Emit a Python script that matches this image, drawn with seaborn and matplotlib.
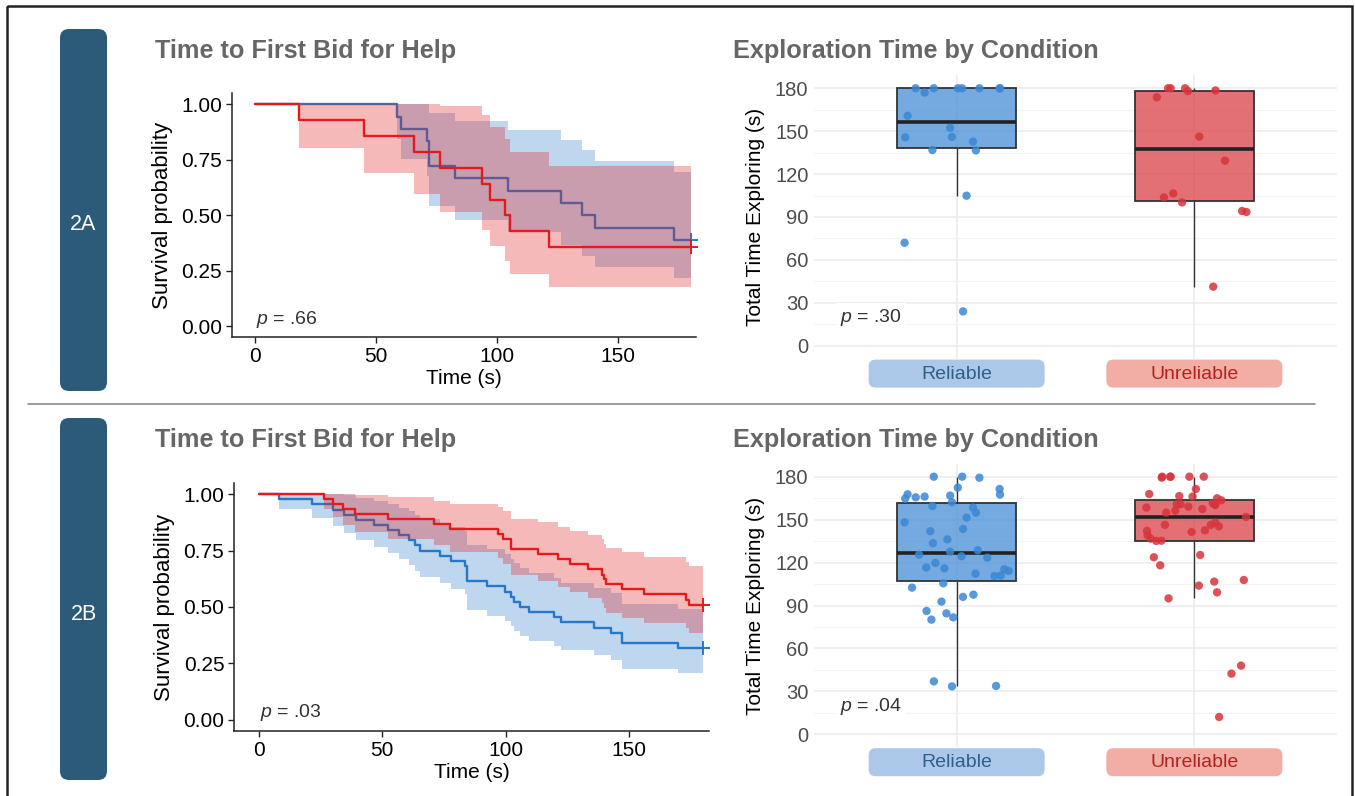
import numpy as np
import pandas as pd
import matplotlib
matplotlib.use("Agg")
import matplotlib.pyplot as plt
import seaborn as sns
from matplotlib.colors import to_rgba
from matplotlib.patches import FancyBboxPatch, Rectangle
from matplotlib.ticker import MultipleLocator, FormatStrFormatter

# Kaplan-Meier steps: time, survival, 95% band
a_rel_time = [0, 58.8, 60.3, 71.1, 71.9, 82.8, 104.4, 126.3, 134.9, 140.4, 173.1, 180]
a_rel_surv = [1, .944, .889, .833, .722, .667, .611, .556, .500, .444, .389, .389]
a_rel_low = [1, .844, .755, .678, .542, .481, .423, .368, .315, .265, .218, .218]
a_rel_up = [1, 1, 1, 1, .962, .924, .883, .840, .794, .745, .694, .694]

a_unr_time = [0, 18.3, 44.9, 65.9, 76.4, 93.6, 96.9, 103.4, 105.3, 121.5, 180]
a_unr_surv = [1, .929, .857, .786, .714, .643, .571, .500, .429, .357, .357]
a_unr_low = [1, .803, .692, .598, .513, .435, .363, .296, .234, .177, .177]
a_unr_up = [1, 1, 1, 1, .995, .950, .899, .844, .785, .721, .721]

b_rel_time = [0, 8.1, 21.4, 30.3, 34.5, 39.5, 46.7, 52.5, 57, 61, 63.5, 65.5, 73.5, 78,
              83.5, 84.5, 92.4, 99.7, 102, 103.4, 105.7, 109.4, 119.7, 122.6, 136,
              142.6, 147, 170, 180]
b_rel_surv = [1, .977, .955, .932, .909, .886, .864, .841, .818, .795, .773, .750, .727,
              .705, .682, .614, .591, .568, .545, .523, .500, .477, .455, .432, .409,
              .386, .341, .318, .318]
b_rel_low = [1, .934, .895, .860, .828, .797, .768, .740, .712, .685, .658, .632, .607,
             .582, .557, .485, .462, .439, .416, .394, .372, .350, .329, .308, .287,
             .266, .226, .206, .206]
b_rel_up = [1, 1, 1, 1, .998, .985, .971, .956, .940, .924, .907, .890, .872, .853,
            .835, .776, .756, .735, .714, .693, .672, .650, .628, .606, .583, .561,
            .514, .490, .490]

b_unr_time = [0, 26.6, 30.3, 34, 39.2, 52.5, 71, 77.3, 97.1, 99, 102.4, 113, 121.2,
              126.3, 133.4, 138.9, 140, 140.5, 147, 155.9, 173.2, 174.4, 180]
b_unr_surv = [1, .978, .956, .933, .911, .889, .867, .844, .822, .800, .756, .733, .711,
              .689, .667, .644, .622, .600, .578, .556, .533, .511, .511]
b_unr_low = [1, .936, .897, .863, .832, .802, .773, .745, .718, .691, .640, .615, .590,
             .566, .542, .519, .496, .473, .450, .428, .406, .384, .384]
b_unr_up = [1, 1, 1, 1, .998, .986, .972, .957, .942, .926, .892, .875, .857, .838,
            .820, .800, .781, .762, .742, .722, .701, .680, .680]

# total exploration time per participant (s)
a_rel_explore = [180, 180, 180, 180, 180, 180, 180, 177, 160.8, 152.4, 145.7, 146,
                 142.7, 136.8, 136.6, 104.9, 72, 24]
a_unr_explore = [180, 180, 180, 178.5, 178, 173.7, 146.2, 129.4, 106.5, 103.7, 100.2,
                 94.2, 93.5, 41.3]
b_rel_explore = [180, 179.3, 180, 172.4, 171.4, 167.5, 165.6, 166.1, 167.7, 166.8, 164.7,
                 162.1, 158.4, 159.5, 154.9, 151.4, 148.1, 143.5, 141.9, 136.2, 133.5,
                 128.6, 127.6, 125.5, 124.4, 123.4, 119.7, 116.5, 116, 115.3, 114.1,
                 112.3, 110.9, 110.6, 105.5, 102.5, 97.6, 96, 92.7, 86.2, 84.5, 81.7,
                 80.1, 37, 33.5, 33.8]
b_unr_explore = [180, 180, 180, 180, 180, 179.3, 171.4, 167.9, 166.1, 166.5, 164.9, 163.5,
                 160.2, 160.5, 160.7, 161.4, 160.7, 157.4, 156.3, 159.1, 158.4, 154.9,
                 151.9, 146.3, 147.9, 146.3, 145.3, 141.4, 142.5, 142.1, 139, 135.3,
                 135.1, 136.7, 123.7, 125.3, 118.1, 107.8, 106.7, 103.9, 99.2, 95, 48,
                 42.4, 12.1]

conditions = ["Reliable", "Unreliable"]
panel_tags = ["2A", "2B"]
p_surv = [".66", ".03"]
p_box = [".30", ".04"]

W, H = 1355, 796
line_blue, line_red = "#2878C8", "#E41A1C"
box_blue, box_red = "#3A87D4", "#D7343B"
tab_color = "#2C5B7A"

sns.set_theme(style="white")
plt.rcParams["font.family"] = ["Liberation Sans", "DejaVu Sans"]
plt.rcParams["mathtext.fontset"] = "custom"
plt.rcParams["mathtext.it"] = "Liberation Sans:italic"
plt.rcParams["mathtext.rm"] = "Liberation Sans"

fig = plt.figure(figsize=(W / 100, H / 100), dpi=100)

# pixel-space overlay for tabs, titles, frame
bg = fig.add_axes([0, 0, 1, 1], zorder=0)
bg.set_xlim(0, W)
bg.set_ylim(H, 0)
bg.axis("off")


def px_axes(l, t, r, b):
    return fig.add_axes([l / W, 1 - b / H, (r - l) / W, (b - t) / H], zorder=1)


def surv_panel(ax, curves, pval, xlim):
    z = 1
    for time, surv, low, up, col in curves:
        ax.fill_between(time, low, up, step="post", color=col, alpha=0.3, lw=0, zorder=z)
        sns.lineplot(x=time, y=surv, drawstyle="steps-post", color=col, lw=1.7,
                     estimator=None, sort=False, zorder=z + 1, ax=ax)
        ax.plot(time[-1], surv[-1], marker="+", ms=10, mew=1.4, color=col,
                clip_on=False, zorder=z + 1)
        z += 2
    ax.set_xlim(*xlim)
    ax.set_ylim(-0.05, 1.05)
    ax.set_xticks([0, 50, 100, 150])
    ax.set_yticks([0, .25, .5, .75, 1])
    ax.yaxis.set_major_formatter(FormatStrFormatter("%.2f"))
    for s in ["top", "right"]:
        ax.spines[s].set_visible(False)
    for s in ["left", "bottom"]:
        ax.spines[s].set_color("#222222")
        ax.spines[s].set_linewidth(1.1)
        ax.spines[s].set_zorder(10)
    ax.tick_params(bottom=True, left=True, length=4, width=1, color="#222222",
                   labelsize=15, labelcolor="black", pad=3)
    ax.set_xlabel("Time (s)", fontsize=15, color="black", labelpad=2)
    ax.set_ylabel("Survival probability", fontsize=16, color="black", labelpad=6)
    ax.text(0.5, 0.03, r"$p$ = " + pval, fontsize=14, color="#333333",
            ha="left", va="center")


def box_panel(ax, rel, unr, pval):
    df = pd.DataFrame({"condition": ["Reliable"] * len(rel) + ["Unreliable"] * len(unr),
                       "time": rel + unr})
    ax.set_axisbelow(True)
    sns.boxplot(data=df, x="condition", y="time", hue="condition", order=conditions,
                hue_order=conditions, palette=[box_blue, box_red], width=0.5,
                showfliers=False, saturation=1, linecolor="#333333", linewidth=1.3,
                medianprops={"color": "#222222", "linewidth": 2.6},
                whiskerprops={"linewidth": 1.0}, capprops={"linewidth": 0},
                legend=False, ax=ax)
    for patch in ax.patches:
        patch.set_facecolor(to_rgba(patch.get_facecolor(), 0.7))
    np.random.seed(3)
    sns.stripplot(data=df, x="condition", y="time", hue="condition", order=conditions,
                  hue_order=conditions, palette=[box_blue, box_red], jitter=0.23,
                  size=6, alpha=0.85, linewidth=0, legend=False, zorder=3, ax=ax)
    ax.set_xlim(-0.6, 1.6)
    ax.set_ylim(-9, 189)
    ax.set_yticks(range(0, 181, 30))
    ax.yaxis.set_minor_locator(MultipleLocator(15))
    ax.grid(True, which="major", color="#EBEBEB", lw=1.1)
    ax.grid(True, which="minor", axis="y", color="#F4F4F4", lw=0.8)
    for s in ax.spines.values():
        s.set_visible(False)
    ax.tick_params(which="both", length=0, labelbottom=False, labelsize=14.5,
                   labelcolor="#4D4D4D", pad=4)
    ax.set_xlabel("")
    ax.set_ylabel("Total Time Exploring (s)", fontsize=15, color="black", labelpad=7)
    ax.text(-0.49, 19.5, r"$p$ = " + pval, fontsize=14, color="#333333",
            ha="left", va="center",
            bbox=dict(fc="white", ec="none", pad=3))


rows = [
    dict(top=0, surv=(231.7, 93.3, 696, 337.3), sxlim=(-9.5, 182.1),
         box=(814, 75.4, 1337, 358.6),
         curves=[(a_rel_time, a_rel_surv, a_rel_low, a_rel_up, line_blue),
                 (a_unr_time, a_unr_surv, a_unr_low, a_unr_up, line_red)],
         rel=a_rel_explore, unr=a_unr_explore),
    dict(top=389, surv=(234, 483, 709, 731), sxlim=(-10, 182.4),
         box=(814, 463.8, 1337, 747.2),
         curves=[(b_rel_time, b_rel_surv, b_rel_low, b_rel_up, line_blue),
                 (b_unr_time, b_unr_surv, b_unr_low, b_unr_up, line_red)],
         rel=b_rel_explore, unr=b_unr_explore),
]

label_fill = ["#ABC8E9", "#F2AEA4"]
label_text = ["#2F5F88", "#B22222"]

for i, row in enumerate(rows):
    off = row["top"]
    ax_s = px_axes(*row["surv"])
    surv_panel(ax_s, row["curves"], p_surv[i], row["sxlim"])
    ax_b = px_axes(*row["box"])
    box_panel(ax_b, row["rel"], row["unr"], p_box[i])

    # tab
    bg.add_patch(FancyBboxPatch((60, 29 + off), 47, 362, boxstyle="round,pad=0,rounding_size=9",
                                fc=tab_color, ec="none"))
    bg.text(83.5, 225 + off, panel_tags[i], color="white", fontsize=15.5,
            ha="center", va="center")
    # titles
    bg.text(155, 51 + off, "Time to First Bid for Help", fontsize=18.2, fontweight="bold",
            color="#666666", ha="left", va="center")
    bg.text(733, 51 + off, "Exploration Time by Condition", fontsize=18.2,
            fontweight="bold", color="#666666", ha="left", va="center")
    # category label boxes under the box panel
    y0 = row["box"][3] + 1
    for j, cond in enumerate(conditions):
        cx = ax_b.transData.transform((j, 0))[0]
        bg.add_patch(FancyBboxPatch((cx - 88, y0), 176, 28,
                                    boxstyle="round,pad=0,rounding_size=7",
                                    fc=label_fill[j], ec="none"))
        bg.text(cx, y0 + 14.5, cond, color=label_text[j], fontsize=14,
                ha="center", va="center")

# separator and outer frame
bg.plot([28, 1315], [404, 404], color="#808080", lw=1.1)
bg.add_patch(Rectangle((6.5, 5.5), 1345, 800, fill=False, ec="#222222", lw=1.8))

fig.savefig("out.png", dpi=100)
